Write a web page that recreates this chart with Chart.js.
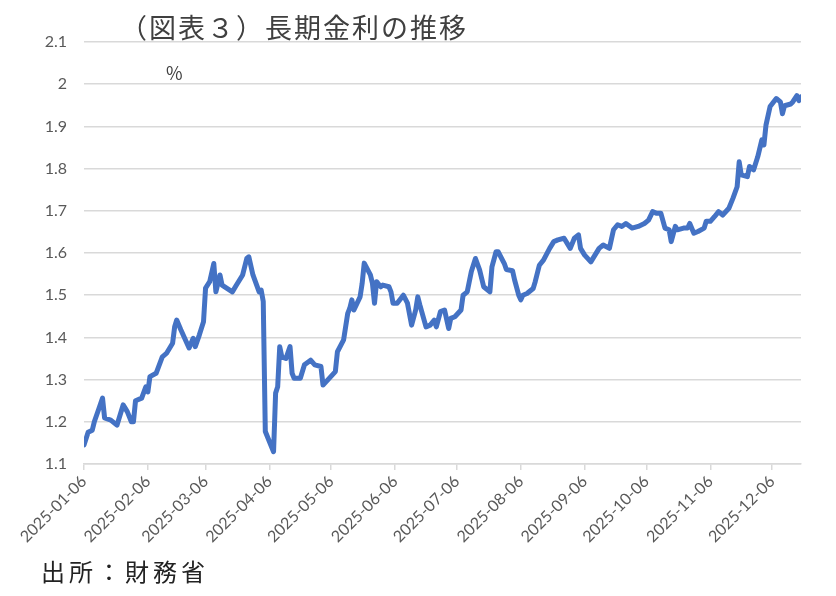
<!DOCTYPE html>
<html>
<head>
<meta charset="utf-8">
<script src="https://cdn.jsdelivr.net/npm/chart.js@4/dist/chart.umd.min.js"></script>
<style>
  html, body { margin: 0; padding: 0; background: #fff; }
  #wrap { position: relative; width: 836px; height: 596px; overflow: hidden; }
  #c { position: absolute; left: 0; top: 0; }
  .title { position: absolute; left: 120px; top: 7px; font-family: "Noto Sans CJK JP"; font-size: 27px; letter-spacing: 2px; color: #404040; white-space: nowrap; }
  .unit { position: absolute; left: 166px; top: 59px; font-family: "Noto Sans CJK JP"; font-size: 18px; color: #404040; }
  .source { position: absolute; left: 41px; top: 553px; font-family: "Noto Sans CJK JP"; font-size: 24px; letter-spacing: 4px; color: #222; white-space: nowrap; }
</style>
</head>
<body>
<div id="wrap">
  <canvas id="c" width="836" height="596"></canvas>
  <div class="title">（図表３）長期金利の推移</div>
  <div class="unit">%</div>
  <div class="source">出所：財務省</div>
</div>
<script>
// 長期金利（10年国債利回り, %）
const YEAR = 2025;
const dates = [
  '01-06','01-08','01-10','01-11','01-13','01-15','01-16','01-19','01-22','01-25','01-27','01-29','01-30','01-31',
  '02-03','02-05','02-06','02-07','02-10','02-13','02-15','02-18','02-19','02-20','02-22','02-26','02-28',
  '03-01','03-03','03-05','03-06','03-08','03-10','03-11','03-13','03-14','03-19','03-21','03-24','03-26','03-27','03-29',
  '04-01','04-02','04-03','04-04','04-08','04-09','04-10','04-11','04-12','04-14','04-16','04-17','04-18','04-21','04-23','04-26','04-28',
  '05-01','05-02','05-05','05-08','05-09','05-12','05-14','05-15','05-16','05-17','05-20','05-21','05-22','05-25','05-26','05-27','05-28','05-30','05-31',
  '06-03','06-04','06-05','06-07','06-10','06-12','06-14','06-16','06-17','06-18','06-21','06-23','06-25','06-26','06-28','06-30',
  '07-02','07-03','07-05','07-08','07-09','07-11','07-13','07-15','07-17','07-19','07-22','07-23','07-25','07-26','07-29','07-30',
  '08-02','08-03','08-05','08-06','08-07','08-09','08-12','08-13','08-15','08-17','08-20','08-22','08-24','08-27','08-30',
  '09-01','09-03','09-04','09-06','09-09','09-13','09-15','09-18','09-20','09-22','09-24','09-26','09-29',
  '10-02','10-05','10-07','10-09','10-11','10-13','10-15','10-17','10-18','10-20','10-21','10-24','10-26','10-27','10-29','10-31',
  '11-03','11-04','11-06','11-08','11-10','11-12','11-15','11-17','11-19','11-20','11-21','11-24','11-25','11-27','11-29',
  '12-01','12-02','12-03','12-05','12-08','12-10','12-11','12-12','12-15','12-16','12-18','12-19','12-20'
];
const yields = [
  1.145,1.175,1.18,1.20,1.228,1.256,1.209,1.204,1.192,1.24,1.224,1.20,1.20,1.25,
  1.256,1.283,1.271,1.307,1.315,1.354,1.362,1.386,1.425,1.441,1.418,1.375,1.398,
  1.378,1.406,1.437,1.517,1.532,1.575,1.508,1.548,1.524,1.508,1.524,1.548,1.587,1.591,1.548,
  1.508,1.512,1.485,1.177,1.129,1.268,1.283,1.378,1.354,1.35,1.378,1.315,1.303,1.303,1.335,1.346,1.335,
  1.331,1.287,1.303,1.319,1.366,1.394,1.457,1.469,1.489,1.465,1.496,1.528,1.576,1.548,1.528,1.481,1.532,1.52,1.524,
  1.52,1.508,1.481,1.481,1.50,1.481,1.429,1.465,1.496,1.477,1.425,1.429,1.441,1.425,1.461,1.465,
  1.421,1.445,1.449,1.465,1.50,1.508,1.556,1.587,1.56,1.52,1.508,1.567,1.603,1.603,1.575,1.561,
  1.558,1.536,1.50,1.489,1.50,1.504,1.516,1.532,1.571,1.583,1.611,1.627,1.631,1.635,1.611,
  1.635,1.643,1.611,1.595,1.579,1.611,1.619,1.611,1.655,1.667,1.663,1.67,1.659,
  1.663,1.67,1.678,1.698,1.694,1.694,1.659,1.655,1.627,1.663,1.655,1.659,1.659,1.67,1.647,1.651,
  1.659,1.675,1.675,1.686,1.698,1.69,1.706,1.73,1.757,1.816,1.785,1.781,1.805,1.797,1.828,
  1.868,1.856,1.903,1.947,1.966,1.958,1.930,1.949,1.953,1.958,1.973,1.961,1.97
];
// 横軸の目盛り（毎月6日）
const tickDates = ['01-06','02-06','03-06','04-06','05-06','06-06','07-06','08-06','09-06','10-06','11-06','12-06'];
const axisEnd = '12-20';
const yMin = 1.1, yMax = 2.1, yStep = 0.1;

// 1月6日からの経過日数
function dayNum(md) {
  const [m, d] = md.split('-').map(Number);
  return (Date.UTC(YEAR, m - 1, d) - Date.UTC(YEAR, 0, 6)) / 86400000;
}

const points = dates.map((d, i) => ({ x: dayNum(d), y: yields[i] }));
const tickDays = tickDates.map(dayNum);

new Chart(document.getElementById('c'), {
  type: 'line',
  data: {
    datasets: [{
      data: points,
      borderColor: '#4472C4',
      borderWidth: 5,
      borderJoinStyle: 'round',
      borderCapStyle: 'round',
      pointRadius: 0,
      tension: 0,
      fill: false,
      parsing: false,
    }],
  },
  options: {
    responsive: false,
    animation: false,
    layout: { padding: { top: 42, right: 35, left: 0, bottom: 0 } },
    plugins: {
      legend: { display: false },
      tooltip: { enabled: false },
    },
    scales: {
      x: {
        type: 'linear',
        min: 0,
        max: dayNum(axisEnd),
        afterBuildTicks: (s) => { s.ticks = tickDays.map(v => ({ value: v })); },
        afterFit: (s) => { s.height = 132; },
        ticks: {
          autoSkip: false,
          maxRotation: 45,
          minRotation: 45,
          padding: 2,
          color: '#595959',
          font: { family: 'Lato', size: 16 },
          callback: (v, i) => `${YEAR}-${tickDates[i]}`,
        },
        grid: { drawOnChartArea: false, drawTicks: true, tickLength: 6, color: '#d9d9d9', lineWidth: 1.5 },
        border: { display: true, color: '#d9d9d9', width: 1.5 },
      },
      y: {
        min: yMin,
        max: yMax,
        afterFit: (s) => { s.width = 84; },
        ticks: {
          stepSize: yStep,
          padding: 17,
          color: '#595959',
          font: { family: 'Lato', size: 16 },
          callback: (v) => String(parseFloat(Number(v).toFixed(1))),
        },
        grid: { color: '#d9d9d9', lineWidth: 1.5, drawTicks: false },
        border: { display: false },
      },
    },
  },
});
</script>
</body>
</html>
